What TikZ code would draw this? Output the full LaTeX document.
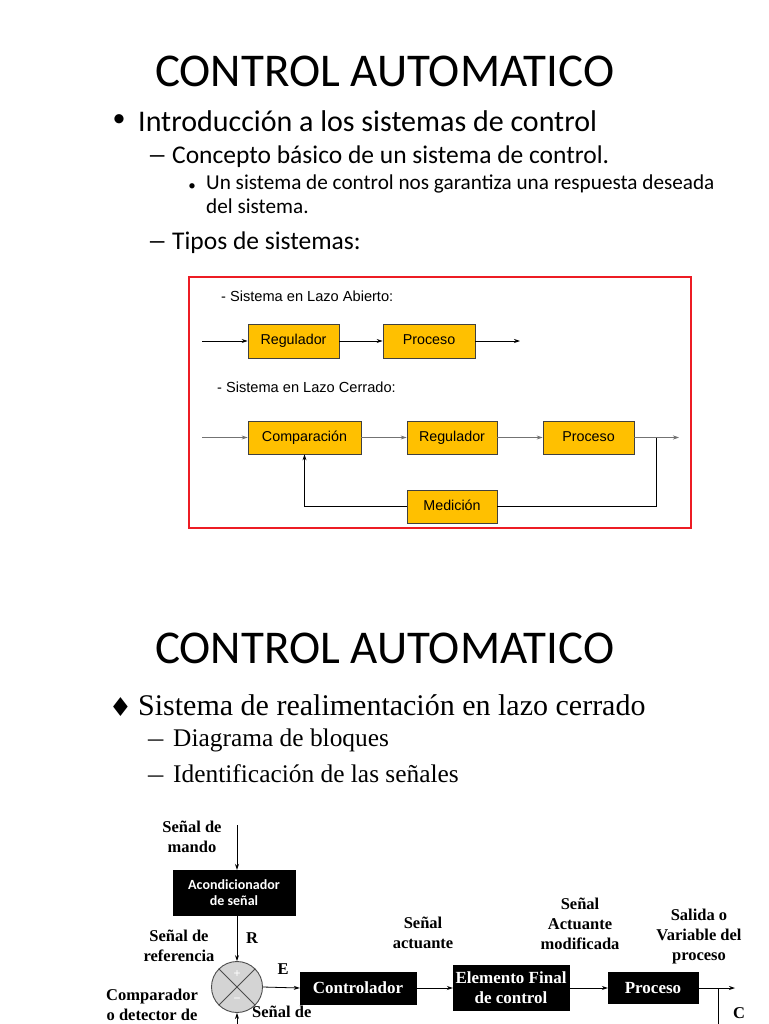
\documentclass[tikz,border=0pt]{standalone}
\usepackage{fontspec}
\usepackage{graphicx}
\setmainfont{Carlito}
\newfontfamily\calfont{Carlito}
\newfontfamily\tnrfont{Liberation Serif}
\newfontfamily\arifont{Liberation Sans}
\newfontfamily\djvfont{DejaVu Sans}
\usetikzlibrary{arrows.meta,calc}
\definecolor{boxgold}{RGB}{255,192,0}
\definecolor{redframe}{RGB}{237,28,36}
\newcommand{\widedash}{\makebox[25pt][l]{\scalebox{1.6}[1]{–}}}
\tikzset{
  arr/.style={-{Stealth[length=6pt,width=4pt]}, line width=0.8pt},
  goldbox/.style={draw=black!75, fill=boxgold, line width=0.8pt, inner sep=0pt,
    text height=10.5pt, text depth=3pt,
    font=\arifont\fontsize{14.3}{16}\selectfont},
  blackbox/.style={fill=black, draw=black, text=white, inner sep=0pt, align=center},
  lbl/.style={font=\tnrfont\bfseries\fontsize{16.5}{20}\selectfont, align=center, inner sep=0pt},
  title/.style={font=\calfont\fontsize{47}{50}\selectfont, inner sep=0pt, anchor=west},
  txt/.style={inner sep=0pt, anchor=west},
}
\begin{document}
\begin{tikzpicture}[x=1pt,y=-1pt]
\useasboundingbox[fill=white] (0,0) rectangle (768,1024);

% ---------- slide 1 ----------
\node[title] (t1) at (155,71) {CONTROL AUTOMATICO};
\node[inner sep=0pt, font=\calfont\fontsize{26}{26}\selectfont] (b1) at (119,121) {•};
\node[txt, font=\calfont\fontsize{30}{32}\selectfont] (l1) at (138,121) {Introducción a los sistemas de control};
\node[txt, font=\calfont\fontsize{25.5}{27}\selectfont] (l2) at (147,157) {\widedash Concepto básico de un sistema de control.};
\node[inner sep=0pt, font=\calfont\fontsize{15}{17}\selectfont] (b2) at (192,187) {•};
\node[inner sep=0pt, anchor=north west, align=left, font=\calfont\fontsize{21.2}{23.5}\selectfont] (l3) at (206,175) {Un sistema de control nos garantiza una respuesta deseada\\del sistema.};
\node[txt, font=\calfont\fontsize{25.5}{27}\selectfont] (l4) at (147,243) {\widedash Tipos de sistemas:};

\draw[redframe, line width=2pt] (189,277) rectangle (691,528);
\node[txt, font=\arifont\fontsize{14.6}{16}\selectfont] (la) at (221,296) {- Sistema en Lazo Abierto:};
\node[txt, font=\arifont\fontsize{14.6}{16}\selectfont] (lc) at (217,387) {- Sistema en Lazo Cerrado:};

% open loop
\node[goldbox, minimum width=91pt, minimum height=34pt] (reg1) at (293.5,341) {Regulador};
\node[goldbox, minimum width=92pt, minimum height=34pt] (pro1) at (429,341) {Proceso};
\coordinate (in1) at (202,341);
\coordinate (out1) at (520,341);
\draw[arr] (in1) -- (reg1);
\draw[arr] (reg1) -- (pro1);
\draw[arr] (pro1) -- (out1);

% closed loop
\node[goldbox, minimum width=113pt, minimum height=33pt] (comp) at (304.5,437.5) {Comparación};
\node[goldbox, minimum width=90pt, minimum height=33pt] (reg2) at (452,437.5) {Regulador};
\node[goldbox, minimum width=91pt, minimum height=33pt] (pro2) at (588.5,437.5) {Proceso};
\node[goldbox, minimum width=90pt, minimum height=33pt] (med) at (452,506.5) {Medición};
\coordinate (in2) at (202,437.5);
\coordinate (out2) at (679,437.5);
\coordinate (br2) at (656,437.5);
\draw[arr, draw=black!55] (in2) -- (comp);
\draw[arr, draw=black!55] (comp) -- (reg2);
\draw[arr, draw=black!55] (reg2) -- (pro2);
\draw[arr, draw=black!55] (pro2) -- (out2);
\draw[line width=0.8pt] (br2) |- (med.east);
\draw[arr] (med.west) -| (comp.south);

% ---------- slide 2 ----------
\node[title] (t2) at (155,648) {CONTROL AUTOMATICO};
\node[inner sep=0pt, font=\djvfont\fontsize{26}{26}\selectfont] (d1) at (120.5,707) {♦};
\node[txt, font=\tnrfont\fontsize{30}{32}\selectfont] (m1) at (138,705) {Sistema de realimentación en lazo cerrado};
\node[txt, font=\tnrfont\fontsize{25.4}{27}\selectfont] (m2) at (148,740) {\makebox[25pt][l]{\scalebox{1.2}[1]{–}}Diagrama de bloques};
\node[txt, font=\tnrfont\fontsize{25.4}{27}\selectfont] (m3) at (148,774) {\makebox[25pt][l]{\scalebox{1.2}[1]{–}}Identificación de las señales};

% block diagram
\node[lbl] (smando) at (192,837) {Señal de\\mando};
\coordinate (mtop) at (237,825);
\node[blackbox, minimum width=122pt, minimum height=45pt, font=\calfont\bfseries\fontsize{14}{16.5}\selectfont] (acond) at (234,892.5) {Acondicionador\\de señal};
\draw[arr] (mtop) -- (mtop |- acond.north);

\node[circle, draw=black!70, fill=black!17, line width=0.9pt, minimum size=51pt, inner sep=0pt] (circ) at (237,987) {};
\draw[black!70, line width=0.9pt] (circ.45) -- (circ.225) (circ.135) -- (circ.315);
\node[inner sep=0pt, text=white, font=\arifont\fontsize{12}{12}\selectfont] (plus) at (237,974) {+};
\node[inner sep=0pt, text=white, font=\arifont\fontsize{12}{12}\selectfont] (minus) at (237,1000) {−};
\draw[arr] (mtop |- acond.south) -- (circ.north);
\node[lbl] (R) at (252,938) {R};
\node[lbl] (sref) at (179,946) {Señal de\\referencia};

\node[blackbox, minimum width=116pt, minimum height=32pt, font=\tnrfont\bfseries\fontsize{17}{19}\selectfont] (ctrl) at (358,988) {Controlador};
\node[blackbox, minimum width=116pt, minimum height=45pt, font=\tnrfont\bfseries\fontsize{17}{20}\selectfont] (efc) at (511,988) {Elemento Final\\de control};
\node[blackbox, minimum width=90pt, minimum height=31pt, font=\tnrfont\bfseries\fontsize{17}{19}\selectfont] (proc) at (653,988) {Proceso};
\node[lbl] (E) at (283,969) {E};
\draw[arr] (circ.east) -- (ctrl.west);
\draw[arr] (ctrl.east) -- (efc.west);
\draw[arr] (efc.east) -- (proc.west);
\coordinate (cout) at (735,988);
\coordinate (cbr) at (718,988);
\coordinate (cbot) at (718,1024);
\draw[arr] (proc.east) -- (cout);
\draw[line width=0.8pt] (cbr) -- (cbot);
\node[lbl] (C) at (739,1013) {C};
\coordinate (fbot) at (237,1024);
\draw[arr] (fbot) -- (circ.south);

\node[lbl] (sact) at (423,933) {Señal\\actuante};
\node[lbl] (samod) at (580,924) {Señal\\Actuante\\modificada};
\node[lbl] (sal) at (699,937) {Salida o\\Variable del\\proceso};
\node[lbl] (compd) at (152,1005) {Comparador\\o detector de};
\node[lbl, anchor=west] (sfb) at (252,1012) {Señal de};
\end{tikzpicture}
\end{document}
